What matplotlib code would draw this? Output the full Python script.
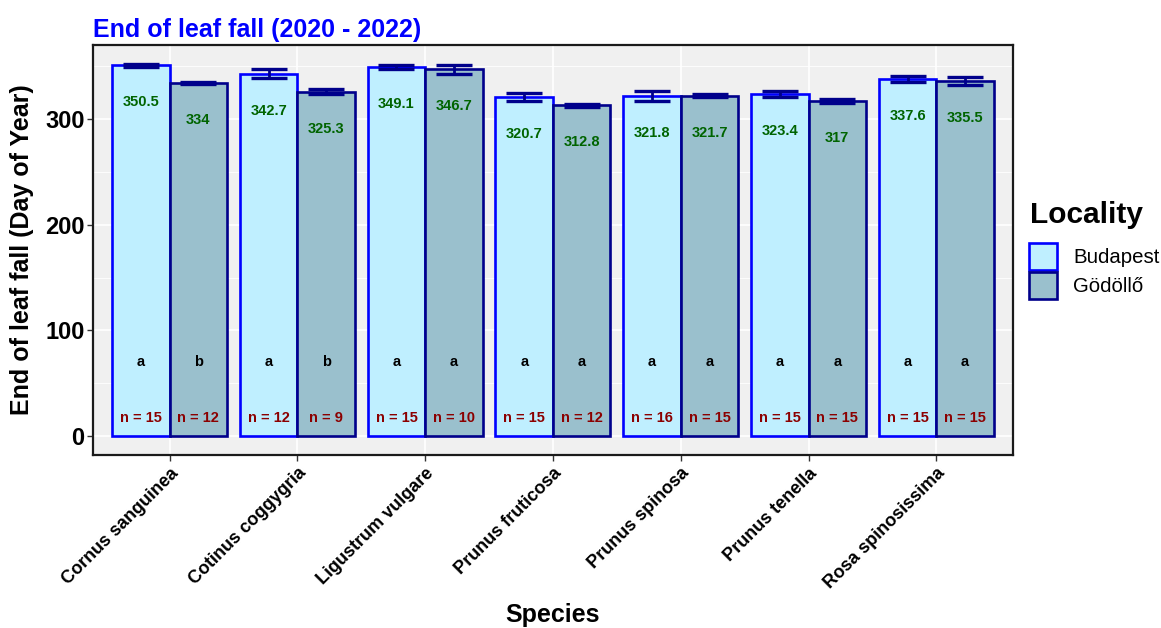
import matplotlib.pyplot as plt
import numpy as np

# data
species = ["Cornus sanguinea", "Cotinus coggygria", "Ligustrum vulgare",
           "Prunus fruticosa", "Prunus spinosa", "Prunus tenella",
           "Rosa spinosissima"]
bud_mean = [350.5, 342.7, 349.1, 320.7, 321.8, 323.4, 337.6]
god_mean = [334, 325.3, 346.7, 312.8, 321.7, 317, 335.5]
bud_se = [1.5, 4.3, 1.8, 4.0, 4.6, 3.0, 2.8]
god_se = [1.0, 2.3, 4.3, 1.5, 1.5, 1.8, 3.7]
bud_n = [15, 12, 15, 15, 16, 15, 15]
god_n = [12, 9, 10, 12, 15, 15, 15]
bud_letter = ["a", "a", "a", "a", "a", "a", "a"]
god_letter = ["b", "b", "a", "a", "a", "a", "a"]
bud_lab = ["350.5", "342.7", "349.1", "320.7", "321.8", "323.4", "337.6"]
god_lab = ["334", "325.3", "346.7", "312.8", "321.7", "317", "335.5"]

plt.rcParams['font.family'] = ['Liberation Sans', 'DejaVu Sans']

fig = plt.figure(figsize=(11.61, 6.28), dpi=100)
ax = fig.add_axes([0.0801, 0.2755, 0.7924, 0.6528])

x = np.arange(len(species))
w = 0.45
ax.bar(x - w/2, bud_mean, w, color='#BFEFFF', edgecolor='#0000FF', linewidth=1.9,
       label='Budapest', zorder=3)
ax.bar(x + w/2, god_mean, w, color='#9AC0CD', edgecolor='#00008B', linewidth=1.9,
       label='Gödöllő', zorder=3)
ax.errorbar(x - w/2, bud_mean, yerr=bud_se, fmt='none', ecolor='#00008B',
            elinewidth=2, capsize=13, capthick=2.4, zorder=4)
ax.errorbar(x + w/2, god_mean, yerr=god_se, fmt='none', ecolor='#00008B',
            elinewidth=2, capsize=13, capthick=2.4, zorder=4)

for i in range(len(species)):
    for dx, m, lab, let, n in [(-w/2, bud_mean[i], bud_lab[i], bud_letter[i], bud_n[i]),
                               (w/2, god_mean[i], god_lab[i], god_letter[i], god_n[i])]:
        ax.text(x[i] + dx, m - 35, lab, color='#006400', fontsize=10.5,
                fontweight='bold', ha='center', va='center', zorder=5)
        ax.text(x[i] + dx, 70, let, color='black', fontsize=10.5,
                fontweight='bold', ha='center', va='center', zorder=5)
        ax.text(x[i] + dx, 17, 'n = %d' % n, color='#8B0000', fontsize=10.5,
                fontweight='bold', ha='center', va='center', zorder=5)

ax.set_xlim(-0.6, len(species) - 0.4)
ax.set_ylim(-17.6, 369.6)
ax.set_yticks([0, 100, 200, 300])
ax.set_yticks([50, 150, 250, 350], minor=True)
ax.set_xticks(x)
ax.set_xticklabels(species, rotation=45, ha='right', rotation_mode='anchor',
                   fontsize=13, fontweight='bold')
for t in ax.get_yticklabels():
    t.set_fontweight('bold')
    t.set_fontsize(17)
ax.tick_params(axis='both', which='major', length=4, color='#333333', width=1)
ax.tick_params(axis='y', which='minor', length=0)
ax.tick_params(axis='x', pad=3)
ax.tick_params(axis='y', pad=2)

ax.set_facecolor('#F0F0F0')
ax.grid(True, which='major', color='white', linewidth=1.2, zorder=0)
ax.grid(True, which='minor', axis='y', color='white', linewidth=0.6, zorder=0)
ax.set_axisbelow(True)
for s in ax.spines.values():
    s.set_linewidth(1.6)
    s.set_color('#1a1a1a')

fig.text(553 / 1161, 1 - 615 / 628, 'Species', fontsize=18, fontweight='bold',
         ha='center', va='center')
ax.set_ylabel('End of leaf fall (Day of Year)', fontsize=18, fontweight='bold', labelpad=8)
ax.set_title('End of leaf fall (2020 - 2022)', loc='left', color='#0000FF',
             fontsize=18, fontweight='bold', pad=6)

# legend: title drawn separately so the gap below it matches
fig.text(1030 / 1161, 1 - 215 / 628, 'Locality', fontsize=21.5, fontweight='bold',
         ha='left', va='center')
leg = ax.legend(loc='upper left', bbox_to_anchor=(1029 / 1161, 1 - 243 / 628),
                bbox_transform=fig.transFigure, frameon=False, fontsize=14.7,
                borderpad=0, borderaxespad=0,
                handlelength=1.37, handleheight=1.65, labelspacing=0.1,
                handletextpad=0.78)

fig.savefig('out.png', dpi=100)
